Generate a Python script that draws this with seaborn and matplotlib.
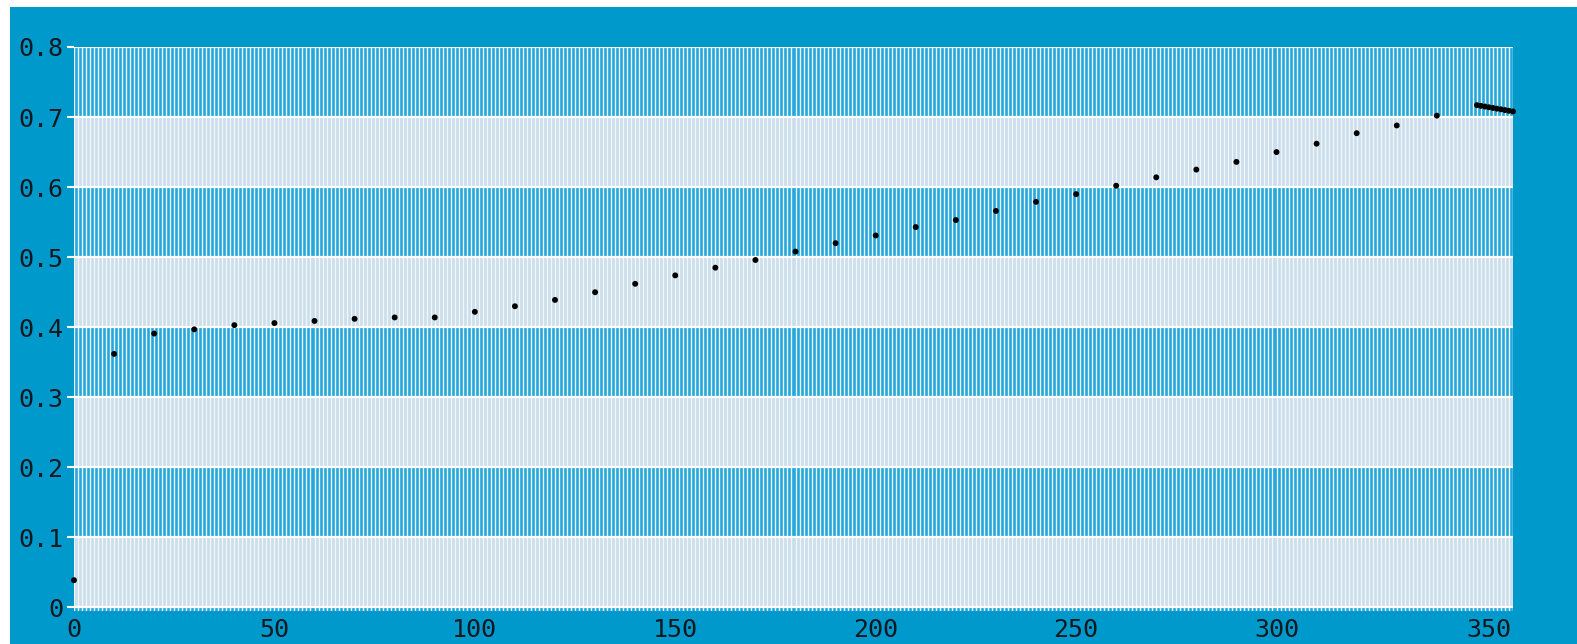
import matplotlib
matplotlib.use("Agg")
import numpy as np
import pandas as pd
import seaborn as sns
import matplotlib.pyplot as plt
import matplotlib.transforms as mtransforms
from matplotlib.patches import Rectangle

# Series values
x_vals = [0, 10, 20, 30, 40, 50, 60, 70, 80, 90, 100, 110, 120, 130, 140, 150,
          160, 170, 180, 190, 200, 210, 220, 230, 240, 250, 260, 270, 280, 290,
          300, 310, 320, 330, 340,
          350, 351, 352, 353, 354, 355, 356, 357, 358, 359]
y_vals = [0.039, 0.362, 0.391, 0.397, 0.403, 0.406, 0.409, 0.412, 0.414, 0.414,
          0.422, 0.430, 0.439, 0.450, 0.462, 0.474, 0.485, 0.496, 0.508, 0.520,
          0.531, 0.543, 0.553, 0.566, 0.579, 0.590, 0.602, 0.614, 0.625, 0.636,
          0.650, 0.662, 0.677, 0.688, 0.702,
          0.717, 0.716, 0.715, 0.714, 0.713, 0.712, 0.711, 0.710, 0.709, 0.708]

# Axis ticks
x_ticks = [0, 50, 100, 150, 200, 250, 300, 350]
y_ticks = [0.0, 0.1, 0.2, 0.3, 0.4, 0.5, 0.6, 0.7, 0.8]
y_tick_labels = ["0", "0.1", "0.2", "0.3", "0.4", "0.5", "0.6", "0.7", "0.8"]
x_max = 359

BG = "#0099cc"
DARK_BAND = "#23a8db"
LIGHT_BAND = "#cadeeb"
STRIPE = "#f2f7fb"
MONO = "DejaVu Sans Mono"

W, H = 1577, 644
fig = plt.figure(figsize=(W / 100, H / 100), dpi=100, facecolor="white")
fig.patches.append(Rectangle((10 / W, 0), 1, 1 - 7 / H, transform=fig.transFigure,
                             facecolor=BG, edgecolor="none", zorder=-10))

left, right, top, bottom = 74, 1513, 47, 611
ax = fig.add_axes([left / W, 1 - bottom / H, (right - left) / W, (bottom - top) / H])
ax.set_facecolor(BG)

# Alternating horizontal bands between the y ticks (one extra below zero)
edges = [-0.1] + y_ticks
for i in range(len(edges) - 1):
    color = DARK_BAND if i % 2 == 0 else LIGHT_BAND
    ax.axhspan(edges[i], edges[i + 1], facecolor=color, edgecolor="none", zorder=0)

# Fine vertical rulings at every unit on x
ax.vlines(np.arange(0, x_max + 1), -0.1, 0.8, colors=STRIPE, linewidth=1.0, zorder=1)
# White horizontal grid at the y ticks
ax.hlines(y_ticks, 0, x_max, colors="white", linewidth=1.6, zorder=2)

df = pd.DataFrame({"x": x_vals, "y": y_vals})
sns.scatterplot(data=df, x="x", y="y", ax=ax, color="black", s=18,
                marker="o", edgecolor="none", zorder=3, clip_on=False, legend=False)

ax.set_xlim(0, x_max)
ax.set_ylim(-0.005, 0.8)
ax.set_xticks(x_ticks)
ax.set_xticklabels([str(t) for t in x_ticks])
ax.set_yticks(y_ticks)
ax.set_yticklabels(y_tick_labels)
ax.set_xlabel("")
ax.set_ylabel("")
for s in ax.spines.values():
    s.set_visible(False)

ax.tick_params(axis="y", length=5, width=1.5, color="white", labelsize=18,
               labelcolor="#101820", pad=3)
ax.tick_params(axis="x", length=0, labelsize=18, labelcolor="#101820", pad=5)
for lab in ax.get_xticklabels() + ax.get_yticklabels():
    lab.set_fontfamily(MONO)

# keep the last x label inside the plot's right edge
last = ax.get_xticklabels()[-1]
last.set_transform(last.get_transform() +
                   mtransforms.ScaledTranslation(0.12, 0, fig.dpi_scale_trans))

fig.savefig("out.png", dpi=100, facecolor=fig.get_facecolor())
